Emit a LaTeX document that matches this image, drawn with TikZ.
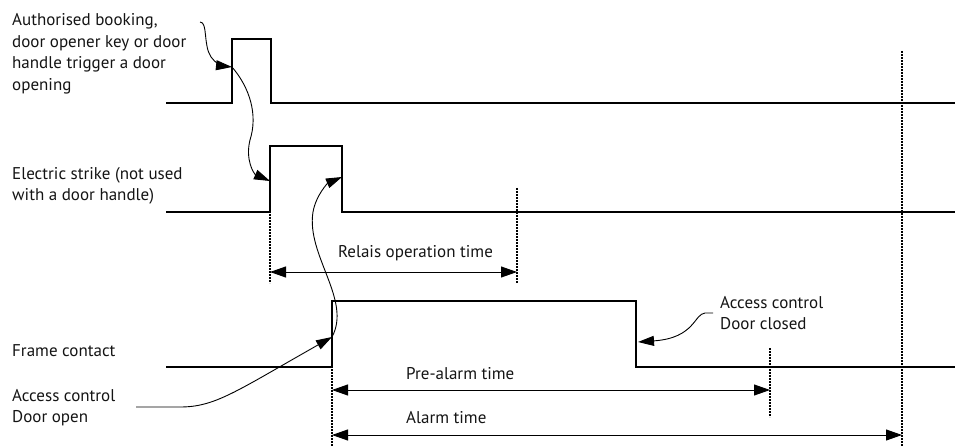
\documentclass[tikz,border=0pt]{standalone}
\usepackage{fontspec}
\setmainfont{PT Sans}
\usetikzlibrary{arrows.meta}
\begin{document}
\begin{tikzpicture}[x=1pt,y=-1pt,
  signal/.style={line width=2.8pt,line join=miter},
  guide/.style={line width=1.4pt,dash pattern=on 1.6pt off 1.4pt},
  dimarrow/.style={line width=0.9pt,{Triangle[length=16pt,width=11pt]}-{Triangle[length=16pt,width=11pt]}},
  callout/.style={line width=0.9pt,-{Triangle[length=16pt,width=10pt]}},
  lbl/.style={font=\fontsize{17}{21.5}\selectfont,inner sep=0pt,align=left,text=black!92}]
\useasboundingbox (0,0) rectangle (957,446);
% signals
\draw[signal] (166,103) -- (232,103) -- (232,39) -- (271,39) -- (271,103) -- (955,103);
\draw[signal] (166,212) -- (270,212) -- (270,146) -- (342,146) -- (342,212) -- (955,212);
\draw[signal] (166,367) -- (332,367) -- (332,301) -- (636,301) -- (636,367) -- (955,367);
% named points
\coordinate (s1rise) at (232,67);
\coordinate (s2rise) at (270,181);
\coordinate (s2fall) at (342,177);
\coordinate (s3rise) at (332,337);
\coordinate (s3fall) at (638,342);
% guides
\coordinate (g1t) at (270,214); \coordinate (g1b) at (270,283);
\coordinate (g2t) at (517,188); \coordinate (g2b) at (517,283);
\coordinate (g3t) at (332,369); \coordinate (g3b) at (332,446);
\coordinate (g4t) at (770,348); \coordinate (g4b) at (770,417);
\coordinate (g5t) at (902,51);  \coordinate (g5b) at (902,446);
\draw[guide] (g1t) -- (g1b);
\draw[guide] (g2t) -- (g2b);
\draw[guide] (g3t) -- (g3b);
\draw[guide] (g4t) -- (g4b);
\draw[guide] (g5t) -- (g5b);
% dimension arrows
\coordinate (d1l) at (270,272); \coordinate (d1r) at (517,272);
\coordinate (d2l) at (332,390); \coordinate (d2r) at (770,390);
\coordinate (d3l) at (332,435); \coordinate (d3r) at (902,435);
\draw[dimarrow] (d1l) -- (d1r);
\draw[dimarrow] (d2l) -- (d2r);
\draw[dimarrow] (d3l) -- (d3r);
\node[lbl] (relais) at (415.5,253) {Relais operation time};
\node[lbl,anchor=west] (prealarm) at (406,374) {Pre-alarm time};
\node[lbl,anchor=west] (alarm) at (406,418) {Alarm time};
% labels
\node[lbl,anchor=west] (auth) at (12,54) {Authorised booking,\\door opener key or door\\handle trigger a door\\opening};
\node[lbl,anchor=west] (strike) at (12,186) {Electric strike (not used\\with a door handle)};
\node[lbl,anchor=west] (frame) at (12,351) {Frame contact};
\node[lbl,anchor=west] (open) at (12,407.5) {Access control\\Door open};
\node[lbl,anchor=west] (closed) at (720,313) {Access control\\Door closed};
% callouts
\coordinate (c1) at (200,22);
\draw[callout] (c1) .. controls (208,22) and (203,45) .. (211,57) .. controls (215,63) and (223,66) .. (s1rise);
\draw[callout] (s1rise) .. controls (250,88) and (258,115) .. (250,140) .. controls (245,160) and (254,174) .. (s2rise);
\coordinate (c3) at (136,407);
\draw[callout] (c3) -- (180,407) .. controls (215,407) and (235,392) .. (s3rise);
\draw[callout] (s3rise) .. controls (352,300) and (306,255) .. (313,212) .. controls (316,195) and (328,183) .. (s2fall);
\coordinate (c5) at (713,313);
\draw[callout] (c5) -- (705,313) .. controls (694,314) and (695,338) .. (s3fall);
\end{tikzpicture}
\end{document}
